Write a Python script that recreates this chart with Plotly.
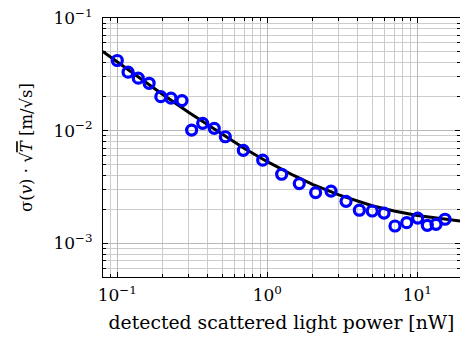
import plotly.graph_objects as go

# measured data
power_nW = [0.1, 0.118, 0.138, 0.163, 0.195, 0.228, 0.270, 0.313, 0.371, 0.443,
            0.525, 0.692, 0.932, 1.247, 1.634, 2.10, 2.66, 3.35, 4.11, 5.01,
            6.0, 7.10, 8.50, 10.06, 11.66, 13.33, 15.3]
sigma_sqrtT = [0.0419, 0.0330, 0.0292, 0.0263, 0.0200, 0.0194, 0.01845, 0.0101, 0.0116, 0.01046,
               0.00881, 0.00667, 0.00546, 0.00409, 0.00338, 0.00281, 0.00290, 0.00235, 0.00196, 0.00193,
               0.00185, 0.00142, 0.00152, 0.00167, 0.00144, 0.00147, 0.00163]

# fit curve
fit_x = [0.08, 0.1, 0.15, 0.2, 0.3, 0.5, 0.7, 1.0, 1.5, 2.0, 3.0, 5.0, 7.0, 10.0, 14.0, 20.0]
fit_y = [0.0504, 0.0406, 0.0275, 0.0210, 0.01445, 0.00922, 0.00697, 0.00529, 0.00399,
         0.00333, 0.00268, 0.00215, 0.00193, 0.00176, 0.00165, 0.00156]

x_tick_vals = [0.1, 1, 10]
x_tick_text = ["10<sup>−1</sup>", "10<sup>0</sup>", "10<sup>1</sup>"]
y_tick_vals = [0.001, 0.01, 0.1]
y_tick_text = ["10<sup>−3</sup>", "10<sup>−2</sup>", "10<sup>−1</sup>"]

FONT = "DejaVu Serif"

fig = go.Figure()
fig.add_trace(go.Scatter(x=fit_x, y=fit_y, mode="lines",
                         line=dict(color="black", width=3), showlegend=False))
fig.add_trace(go.Scatter(x=power_nW, y=sigma_sqrtT, mode="markers",
                         marker=dict(symbol="circle-open", size=10, color="#0000ff",
                                     line=dict(width=3.2, color="#0000ff")),
                         showlegend=False))

axis_common = dict(
    type="log", showline=True, linecolor="black", linewidth=1, mirror="allticks",
    ticks="inside", ticklen=5, tickcolor="black",
    showgrid=True, gridcolor="#b8b8b8", gridwidth=1, zeroline=False,
    tickfont=dict(family=FONT, size=17, color="black"),
    minor=dict(dtick="D1", ticks="inside", ticklen=3, tickcolor="black",
               showgrid=True, gridcolor="#cccccc", gridwidth=1),
)

fig.update_xaxes(**axis_common, range=[-1.0953, 1.2847],
                 tickmode="array", tickvals=x_tick_vals, ticktext=x_tick_text,
                 ticklabelstandoff=3,
                 title=dict(text="detected scattered light power [nW]",
                            font=dict(family=FONT, size=18.8, color="black"), standoff=11))
fig.update_yaxes(**axis_common, range=[-3.301, -1],
                 tickmode="array", tickvals=y_tick_vals, ticktext=y_tick_text,
                 ticklabelstandoff=6,
                 title=dict(text="σ(<i>v</i>) · √<span style='text-decoration:overline'><i>T</i></span> [m/√s]",
                            font=dict(family=FONT, size=16.5, color="black"), standoff=16))

fig.update_layout(width=460, height=338, margin=dict(l=103, r=0, t=18, b=61),
                  plot_bgcolor="white", paper_bgcolor="white")

fig.write_html("out.html")
